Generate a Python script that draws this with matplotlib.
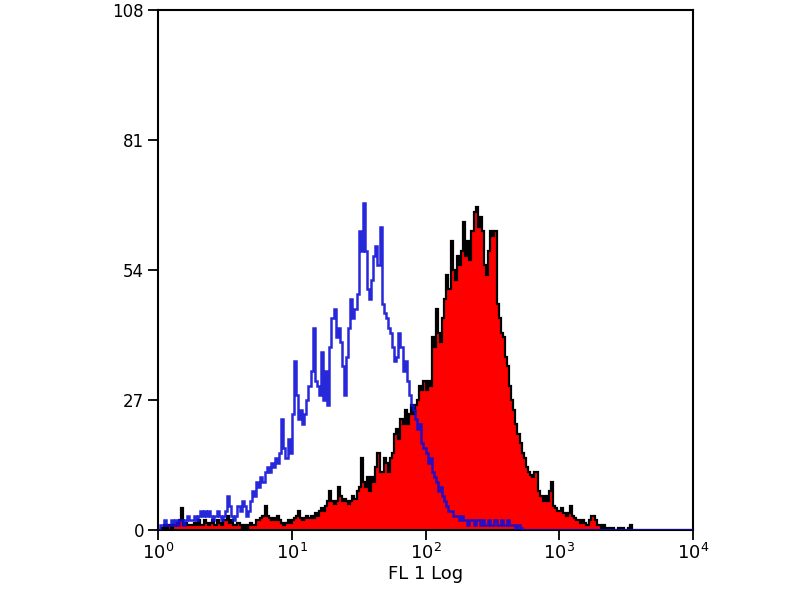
import numpy as np
import matplotlib
matplotlib.use("Agg")
import matplotlib.pyplot as plt

# 256 log channels over 4 decades (10^0 .. 10^4), 16 channels per row (quarter decade)
n_channels = 256
x_min, x_max = 1, 10**4
y_ticks = [0, 27, 54, 81, 108]
x_label = "FL 1 Log"

control_counts = [
    0, 1, 1, 2, 1, 1, 2, 1, 2, 1, 2, 2, 1, 2, 3, 2,
    2, 3, 2, 3, 4, 3, 4, 3, 4, 3, 2, 3, 4, 3, 2, 3,
    4, 7, 5, 3, 2, 3, 5, 4, 6, 5, 3, 4, 6, 8, 7, 10,
    9, 11, 10, 12, 13, 12, 14, 13, 15, 14, 16, 23, 17, 15, 19, 16,
    24, 35, 28, 23, 25, 22, 24, 27, 30, 33, 42, 31, 30, 28, 37, 27,
    33, 26, 38, 44, 46, 40, 42, 39, 34, 28, 36, 42, 48, 44, 46, 49,
    62, 58, 68, 58, 50, 48, 52, 57, 59, 55, 63, 47, 45, 44, 42, 41,
    38, 35, 36, 41, 38, 33, 35, 31, 28, 26, 25, 23, 21, 22, 18, 17,
    16, 14, 15, 12, 11, 10, 8, 9, 7, 6, 5, 4, 4, 3, 3, 3,
    2, 3, 2, 2, 1, 2, 2, 1, 2, 2, 1, 2, 1, 1, 2, 1,
    1, 2, 1, 1, 2, 1, 1, 2, 1, 1, 1, 0.5, 1, 0.5, 0, 0,
    0, 0, 0, 0, 0, 0, 0, 0, 0, 0, 0, 0, 0, 0, 0, 0,
    0, 0, 0, 0, 0, 0, 0, 0, 0, 0, 0, 0, 0, 0, 0, 0,
    0, 0, 0, 0, 0, 0, 0, 0, 0, 0, 0, 0, 0, 0, 0, 0,
    0, 0, 0, 0, 0, 0, 0, 0, 0, 0, 0, 0, 0, 0, 0, 0,
    0, 0, 0, 0, 0, 0, 0, 0, 0, 0, 0, 0, 0, 0, 0, 0,
]

stained_counts = [
    0, 0, 0.5, 1, 0.5, 1, 0.5, 1, 1, 1.5, 2, 4.5, 1, 1.5, 1, 1,
    1, 1.5, 1, 2, 1, 1, 2, 1.5, 1, 1.5, 2, 1, 2, 1.5, 1, 2,
    2, 3, 1.5, 2, 1, 1, 1.5, 1, 0.5, 1, 0.5, 1, 1.5, 1, 1, 2,
    2, 2.5, 3, 5, 3, 2.5, 2, 2.5, 2, 3, 2, 1.5, 1, 1.5, 2, 1.5,
    2, 2.5, 3, 4, 2.5, 2, 2.5, 3, 2.5, 3, 2.5, 3.5, 3, 4, 4.5, 4,
    5, 6, 8, 6, 5.5, 6, 9, 7, 6, 6.5, 6, 5.5, 6, 7, 6.5, 8,
    9, 15, 10, 9, 11, 8, 11, 10, 13, 16, 12, 12, 15, 14, 12, 15,
    16, 20, 21, 19, 23, 22, 25, 22, 24, 26, 24, 26, 27, 30, 29, 31,
    29, 31, 30, 40, 38, 46, 41, 39, 44, 48, 53, 50, 60, 54, 52, 57,
    55, 58, 64, 57, 60, 56, 62, 66, 67, 63, 65, 62, 55, 53, 58, 62,
    61, 62, 47, 44, 41, 40, 36, 34, 30, 27, 25, 22, 20, 18, 16, 15,
    13, 12, 11.5, 11, 12, 12, 8, 7, 6, 7, 6, 8, 10, 5, 4.5, 4,
    4, 4.5, 3.5, 3, 3.5, 5, 3, 2.5, 2, 2, 1.5, 2, 1.5, 1, 2, 3,
    3, 2, 1, 1, 0.5, 1, 0.5, 0.5, 0, 0.5, 0, 0, 0.5, 0, 0.5, 0,
    0, 0.5, 1, 0, 0, 0, 0, 0, 0, 0, 0, 0, 0, 0, 0, 0,
    0, 0, 0, 0, 0, 0, 0, 0, 0, 0, 0, 0, 0, 0, 0, 0,
]

edges = np.logspace(np.log10(x_min), np.log10(x_max), n_channels + 1)

fig = plt.figure(figsize=(8, 6), dpi=100)
ax = fig.add_axes([158 / 800, 1 - 530 / 600, (693 - 158) / 800, (530 - 10) / 600])

ax.stairs(stained_counts, edges, fill=True, color="#ff0000", zorder=2)
ax.stairs(stained_counts, edges, color="black", lw=1.6, baseline=0, zorder=3)
ax.stairs(control_counts, edges, color="#1010d8", lw=1.8, baseline=None, alpha=0.9, zorder=4)

ax.set_xscale("log")
ax.set_xlim(x_min, x_max)
ax.set_ylim(0, 108)
ax.set_yticks(y_ticks)
ax.set_yticklabels([str(v) for v in y_ticks])
ax.set_xticks([1, 10, 100, 1000, 10000])
ax.xaxis.set_minor_locator(matplotlib.ticker.NullLocator())
ax.set_xlabel(x_label, fontsize=13, labelpad=2)

for s in ax.spines.values():
    s.set_linewidth(1.5)
ax.tick_params(axis="y", direction="out", length=7, width=1.3, labelsize=12, pad=3)
ax.tick_params(axis="x", direction="inout", length=14, width=1.3, labelsize=13, pad=2)

fig.savefig("out.png", dpi=100)
